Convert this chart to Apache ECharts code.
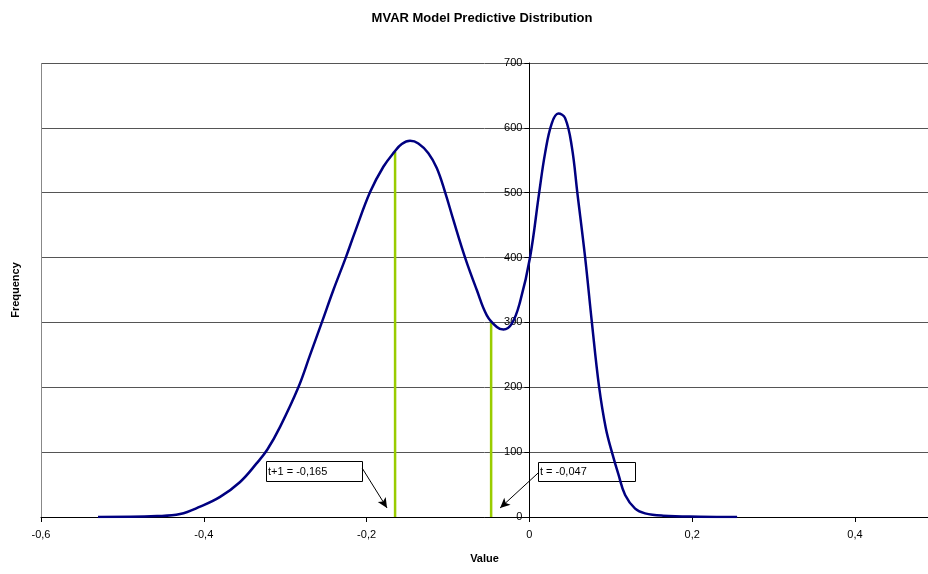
<!DOCTYPE html>
<html><head><meta charset="utf-8">
<script src="https://cdn.jsdelivr.net/npm/echarts@6/dist/echarts.min.js"></script>
<style>html,body{margin:0;padding:0;background:#fff}#c{width:928px;height:574px}</style>
</head><body><div id="c"></div>
<script>
// Density curve (value, frequency)
const curveX = [-0.530,-0.4574,-0.4291,-0.4045,-0.3800,-0.3554,-0.3349,-0.3219,-0.3063,-0.2838,-0.2694,-0.2550,-0.2408,-0.2256,-0.2141,-0.1957,-0.1794,-0.1658,-0.1568,-0.1466,-0.1364,-0.1241,-0.1138,-0.1036,-0.0934,-0.0790,-0.0646,-0.0523,-0.0400,-0.0319,-0.0216,-0.0114,0.0009,0.0119,0.0193,0.0275,0.0356,0.0439,0.0521,0.0590,0.0684,0.0767,0.0856,0.0939,0.1025,0.1093,0.1176,0.1299,0.1421,0.1643,0.2097,0.2552];
const curveY = [0,1.5,4.6,16,31,54,83,104,139,200,250,300,350,400,440,501,540,563,575,580,576,561,538,501,458,400,350,311,293,289,298,332,401,499,561,607,622,615,571,499,401,301,201,137,95,66,34,13,5.6,2,0.5,0];
// Vertical markers
const markerX = [-0.165, -0.047];
const markerTop = [563, 300];
const markerLabels = ['t+1 = -0,165', 't = -0,047'];
// Annotation anchors in data coords: box top-left, arrow start, arrow tip
const boxAnchor = [[-0.3235, 86.3], [0.0107, 84.8]];
const arrowStart = [[-0.2055, 75.5], [0.0107, 67.8]];
const arrowTip = [[-0.1749, 13.9], [-0.0360, 13.9]];
const xTicks = [-0.6, -0.4, -0.2, 0, 0.2, 0.4];
const xMin = -0.6, xMax = 0.4897;

const FONT = 'Liberation Sans, Arial, sans-serif';
const chart = echarts.init(document.getElementById('c'), null, {renderer:'canvas'});
const curve = curveX.map((x,i)=>[x, curveY[i]]);
const markerSeries = markerX.map((x,i)=>({
  type:'line', data:[[x,0],[x,markerTop[i]]], symbol:'none', silent:true,
  lineStyle:{color:'#99CC00', width:2.5}, z:3
}));
const GRID_LEFT = 41;
chart.setOption({
  animation:false,
  title:{text:'MVAR Model Predictive Distribution', left:477, top:7, textAlign:'center',
    textStyle:{fontFamily:FONT, fontSize:13, fontWeight:'bold', color:'#000'}},
  grid:{left:GRID_LEFT, right:0, top:63, bottom:57},
  xAxis:{type:'value', min:xMin, max:xMax, interval:0.2,
    name:'Value', nameLocation:'middle', nameGap:36,
    nameTextStyle:{fontFamily:FONT, fontSize:11, fontWeight:'bold', color:'#000'},
    axisLine:{show:true, onZero:false, lineStyle:{color:'#000', width:1}},
    axisTick:{show:true, length:5, lineStyle:{color:'#000'}},
    axisLabel:{fontFamily:FONT, fontSize:11, color:'#000', margin:12, showMaxLabel:false,
      formatter:v=>xTicks.some(t=>Math.abs(t-v)<1e-9)?String(Math.round(v*10)/10).replace('.',','):''},
    splitLine:{show:false}},
  yAxis:{type:'value', min:0, max:700, interval:100,
    axisLine:{show:true, onZero:false, lineStyle:{color:'#000', width:1}},
    axisTick:{show:true, length:5, lineStyle:{color:'#000'}},
    axisLabel:{fontFamily:FONT, fontSize:11, color:'#000', margin:7},
    splitLine:{show:true, lineStyle:{color:'#555', width:1}}},
  series:[
    ...markerSeries,
    {type:'line', data:curve, smooth:0.4, symbol:'none', silent:true,
      lineStyle:{color:'#000080', width:2.5}, z:4,
      markLine:{silent:true, animation:false, label:{show:false},
        lineStyle:{color:'#000', width:1, type:'solid'},
        data: [
          ...arrowStart.map((s,i)=>[{coord:s, symbol:'none'},{coord:arrowTip[i], symbol:'arrow', symbolSize:[7,10]}]),
          [{coord:[xMin,0], symbol:'none', lineStyle:{color:'#888'}},{coord:[xMin,700], symbol:'none'}]
        ]}}
  ]
});
// place the y axis on x = 0
const zeroPx = chart.convertToPixel({xAxisIndex:0}, 0);
const els = markerLabels.map((t,i)=>{
  const p = chart.convertToPixel({gridIndex:0}, boxAnchor[i]);
  return {type:'group', x:Math.round(p[0]), y:Math.round(p[1]), z:10, children:[
    {type:'rect', shape:{x:0.5,y:0.5,width:i===0?96:97,height:i===0?20:19}, style:{fill:'#fff', stroke:'#000', lineWidth:1}},
    {type:'text', x:2, y:i===0?10.5:10, style:{text:t, fontFamily:FONT, fontSize:11, fill:'#000', verticalAlign:'middle'}}
  ]};
});
chart.setOption({
  yAxis:{offset:-(zeroPx - GRID_LEFT)},
  graphic:[{type:'text', x:16, y:290, rotation:Math.PI/2, z:10,
    style:{text:'Frequency', fontFamily:FONT, fontSize:11, fontWeight:'bold', fill:'#000', align:'center', verticalAlign:'middle'}}, ...els]
});
</script></body></html>
